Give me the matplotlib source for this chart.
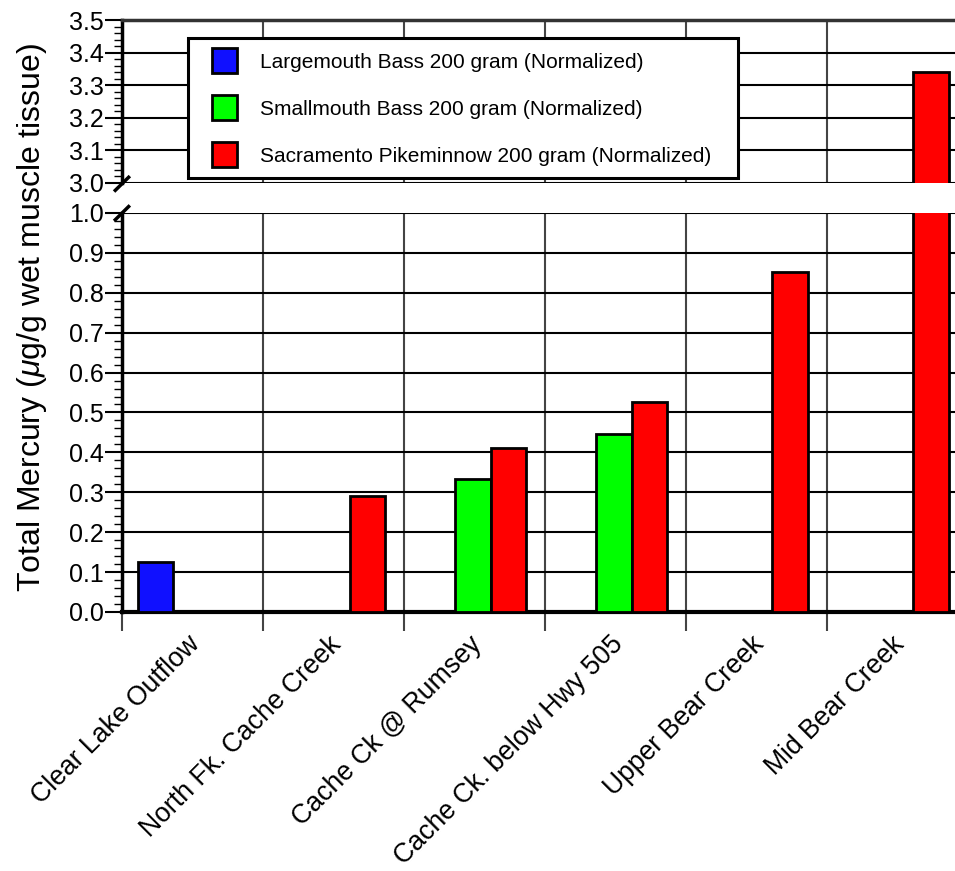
import numpy as np
import matplotlib.pyplot as plt
from matplotlib.patches import Patch, Rectangle
from matplotlib.legend_handler import HandlerPatch
from matplotlib.ticker import MultipleLocator, FixedLocator

plt.rcParams['font.family'] = ['Liberation Sans', 'DejaVu Sans']
plt.rcParams['mathtext.fontset'] = 'custom'
plt.rcParams['mathtext.rm'] = 'Liberation Sans'
plt.rcParams['mathtext.it'] = 'Liberation Sans:italic'

sites = ['Clear Lake Outflow', 'North Fk. Cache Creek', 'Cache Ck @ Rumsey',
         'Cache Ck. below Hwy 505', 'Upper Bear Creek', 'Mid Bear Creek']
species = ['Largemouth Bass 200 gram (Normalized)',
           'Smallmouth Bass 200 gram (Normalized)',
           'Sacramento Pikeminnow 200 gram (Normalized)']
# nan = species not sampled at that site
largemouth = [0.124, np.nan, np.nan, np.nan, np.nan, np.nan]
smallmouth = [np.nan, np.nan, 0.333, 0.445, np.nan, np.nan]
pikeminnow = [np.nan, 0.29, 0.41, 0.527, 0.852, 3.34]
colors = ['#1010ff', '#00ff00', '#ff0000']


def square_patch(legend, orig_handle, xdescent, ydescent, width, height, fontsize):
    # square swatch pushed to the right end of the handle box
    return Rectangle((width - height - xdescent, -ydescent), height, height)


fig = plt.figure(figsize=(9.55, 8.71), dpi=100)
ax_top = fig.add_axes([0.1277, 0.7899, 0.8723, 0.1871])
ax_bot = fig.add_axes([0.1277, 0.2974, 0.8723, 0.4581])

x = np.arange(len(sites))
width = 0.25
offsets = [0.24, 0.49, 0.74]
series = [largemouth, smallmouth, pikeminnow]

for ax in (ax_top, ax_bot):
    for vals, off, c in zip(series, offsets, colors):
        ax.bar(x + off, vals, width=width, color=c, edgecolor='black',
               linewidth=2, zorder=3)
    ax.set_xlim(0, 5.91)
    ax.xaxis.set_major_locator(FixedLocator(np.arange(0, 7)))
    ax.grid(True, axis='x', which='major', color='#444444', linewidth=1.5, zorder=0)
    ax.grid(True, axis='y', which='major', color='black', linewidth=1.5, zorder=0)
    ax.yaxis.set_minor_locator(MultipleLocator(0.02))
    ax.tick_params(axis='y', which='major', direction='out', length=12,
                   width=1.5, labelsize=18, pad=1)
    ax.tick_params(axis='y', which='minor', direction='out', length=6, width=1)
    ax.spines['right'].set_visible(False)
    ax.spines['left'].set_linewidth(2.5)

ax_top.set_ylim(3.0, 3.5)
ax_top.set_yticks(np.arange(3.0, 3.51, 0.1))
ax_top.set_yticklabels([f'{v:.1f}' for v in np.arange(3.0, 3.51, 0.1)])
ax_top.spines['bottom'].set_visible(False)
ax_top.spines['top'].set_linewidth(2.5)
ax_top.spines['top'].set_color('#333333')
ax_top.tick_params(axis='x', which='both', length=0, labelbottom=False)

ax_bot.set_ylim(0.0, 1.0)
ax_bot.set_yticks(np.arange(0.0, 1.01, 0.1))
ax_bot.set_yticklabels([f'{v:.1f}' for v in np.arange(0.0, 1.01, 0.1)])
ax_bot.spines['top'].set_visible(False)
ax_bot.spines['bottom'].set_linewidth(3)
ax_bot.tick_params(axis='x', which='major', direction='out', length=14,
                   width=1.5, color='#444444', labelbottom=False)
ax_bot.xaxis.set_minor_locator(FixedLocator(x + 0.46))
ax_bot.xaxis.set_minor_formatter(plt.FixedFormatter(sites))
ax_bot.tick_params(axis='x', which='minor', length=0, labelsize=19.2, pad=14)
for lbl in ax_bot.get_xminorticklabels():
    lbl.set_rotation(45)
    lbl.set_ha('right')
    lbl.set_rotation_mode('anchor')

# short slashes marking the axis break
kw = dict(color='black', linewidth=2.5, clip_on=False, zorder=5)
ax_top.plot([-0.008, 0.008], [-0.045, 0.035], transform=ax_top.transAxes, **kw)
ax_bot.plot([-0.008, 0.008], [0.983, 1.016], transform=ax_bot.transAxes, **kw)

handles = [Patch(facecolor=c, edgecolor='black', linewidth=2) for c in colors]
leg = ax_top.legend(handles, species, loc='upper left',
                    bbox_to_anchor=(0.0792, 0.0, 0.6603, 0.8896), mode='expand',
                    borderaxespad=0, fontsize=15, frameon=True, fancybox=False,
                    framealpha=1, handlelength=1.87, handleheight=1.47,
                    labelspacing=1.05, handletextpad=1.1, borderpad=0.5,
                    handler_map={Patch: HandlerPatch(patch_func=square_patch)})
leg.get_frame().set_edgecolor('black')
leg.get_frame().set_linewidth(2.2)
leg.set_zorder(10)

fig.text(0.033, 0.636, r'Total Mercury ($\mu$g/g wet muscle tissue)',
         rotation=90, ha='center', va='center', fontsize=23)

fig.savefig('out.png', dpi=100)
